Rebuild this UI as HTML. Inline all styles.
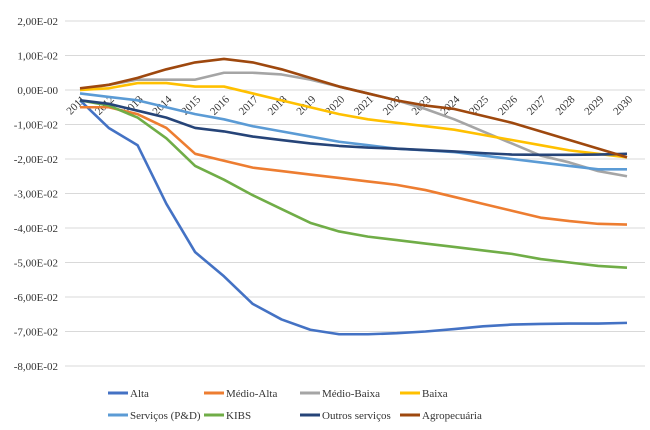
<!DOCTYPE html>
<html><head><meta charset="utf-8"><style>
body{margin:0;background:#fff}
svg{display:block;font-family:"Liberation Serif",serif}
</style></head><body>
<svg id="chart" width="650" height="430" viewBox="0 0 650 430"></svg>
<script>
const years=[2011,2012,2013,2014,2015,2016,2017,2018,2019,2020,2021,2022,2023,2024,2025,2026,2027,2028,2029,2030];
const yTicks=[2,1,0,-1,-2,-3,-4,-5,-6,-7,-8];
const yTickLabels=["2,00E-02","1,00E-02","0,00E-00","-1,00E-02","-2,00E-02","-3,00E-02","-4,00E-02","-5,00E-02","-6,00E-02","-7,00E-02","-8,00E-02"];
const seriesNames=["Alta","Médio-Alta","Médio-Baixa","Baixa","Serviços (P&D)","KIBS","Outros serviços","Agropecuária"];
const seriesColors=["#4472c4","#ed7d31","#a5a5a5","#ffc000","#5b9bd5","#70ad47","#264478","#9e480e"];
const alta=[-0.3,-1.1,-1.6,-3.3,-4.7,-5.4,-6.2,-6.65,-6.95,-7.08,-7.08,-7.05,-7.0,-6.93,-6.85,-6.8,-6.78,-6.77,-6.77,-6.75];
const medioAlta=[-0.5,-0.5,-0.7,-1.1,-1.85,-2.05,-2.25,-2.35,-2.45,-2.55,-2.65,-2.75,-2.9,-3.1,-3.3,-3.5,-3.7,-3.8,-3.88,-3.9];
const medioBaixa=[0,0.15,0.3,0.3,0.3,0.5,0.5,0.45,0.3,0.1,-0.1,-0.3,-0.55,-0.85,-1.2,-1.55,-1.9,-2.1,-2.35,-2.5];
const baixa=[0,0.05,0.2,0.2,0.1,0.1,-0.1,-0.3,-0.5,-0.7,-0.85,-0.95,-1.05,-1.15,-1.3,-1.45,-1.6,-1.75,-1.85,-1.95];
const servicos=[-0.1,-0.2,-0.3,-0.5,-0.7,-0.85,-1.05,-1.2,-1.35,-1.5,-1.6,-1.7,-1.75,-1.8,-1.9,-2.0,-2.1,-2.2,-2.3,-2.3];
const kibs=[-0.3,-0.45,-0.8,-1.4,-2.2,-2.6,-3.05,-3.45,-3.85,-4.1,-4.25,-4.35,-4.45,-4.55,-4.65,-4.75,-4.9,-5.0,-5.1,-5.15];
const outros=[-0.3,-0.4,-0.6,-0.8,-1.1,-1.2,-1.35,-1.45,-1.55,-1.62,-1.67,-1.7,-1.74,-1.78,-1.83,-1.87,-1.88,-1.88,-1.87,-1.85];
const agro=[0.05,0.15,0.35,0.6,0.8,0.9,0.8,0.6,0.35,0.1,-0.1,-0.3,-0.45,-0.55,-0.75,-0.95,-1.2,-1.45,-1.7,-1.95];
const allSeries=[alta,medioAlta,medioBaixa,baixa,servicos,kibs,outros,agro];

const NS="http://www.w3.org/2000/svg";
const svg=document.getElementById('chart');
const x=i=>80+i*(547/(years.length-1));
const y=v=>90-v*34.5;
function mk(t,a,p){const e=document.createElementNS(NS,t);for(const k in a)e.setAttribute(k,a[k]);(p||svg).appendChild(e);return e;}

yTicks.forEach((t,i)=>{
  const g=mk('line',{x1:65,x2:645,y1:y(t),y2:y(t),stroke:'#d9d9d9','stroke-width':1});
  
  
  const l=mk('text',{x:58,y:y(t)+4,'text-anchor':'end','font-size':11,fill:'#333'});
  l.textContent=yTickLabels[i];
  
  
});
years.forEach((yr,i)=>{
  const l=mk('text',{x:x(i)+6,y:y(0)+10,'text-anchor':'end','font-size':11,fill:'#333',transform:`rotate(-45 ${x(i)+6} ${y(0)+10})`});
  l.textContent=yr;
  
  
});
allSeries.forEach((s,k)=>{
  const p=mk('polyline',{points:s.map((v,i)=>x(i)+','+y(v)).join(' '),fill:'none',stroke:seriesColors[k],'stroke-width':2.6,'stroke-linejoin':'round'});
  
  
});
const legX=[108,204,300,400];
seriesNames.forEach((n,k)=>{
  const lx=legX[k%4], ly=k<4?393:415;
  const g=mk('g',{});
  
  
  mk('line',{x1:lx,x2:lx+20,y1:ly,y2:ly,stroke:seriesColors[k],'stroke-width':3},g);
  const t=mk('text',{x:lx+22,y:ly+4,'font-size':11,fill:'#333'},g);
  t.textContent=n;
});
</script>
</body></html>
